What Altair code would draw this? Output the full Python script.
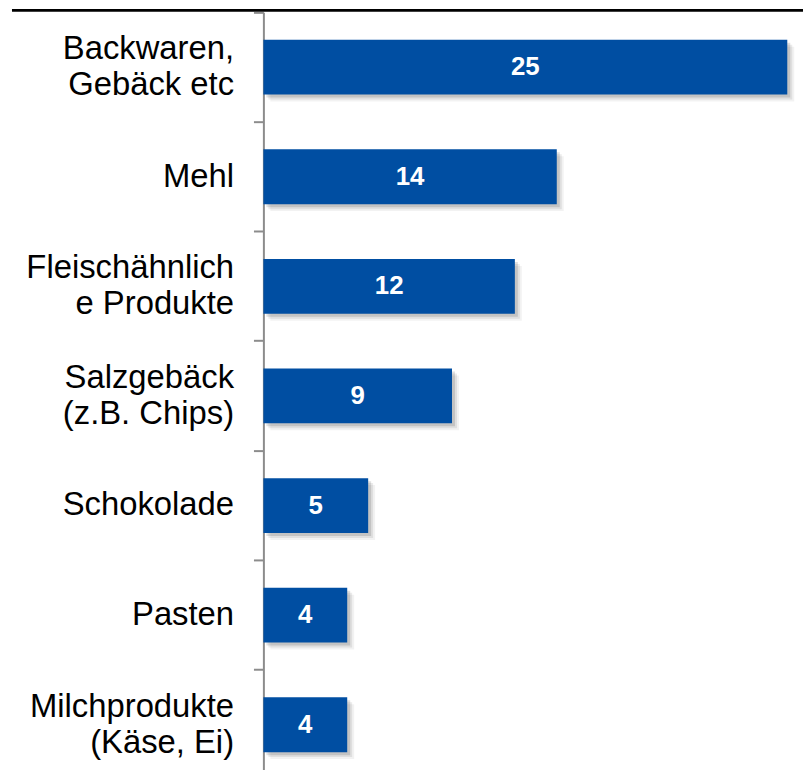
import altair as alt
import pandas as pd

categories = [
    "Backwaren,|Gebäck etc",
    "Mehl",
    "Fleischähnlich|e Produkte",
    "Salzgebäck|(z.B. Chips)",
    "Schokolade",
    "Pasten",
    "Milchprodukte|(Käse, Ei)",
]
values = [25, 14, 12, 9, 5, 4, 4]

df = pd.DataFrame({"cat": categories, "value": values})

BAR = "#004EA2"
XDOM = [0, 25.75]

y_enc = alt.Y(
    "cat:N",
    sort=None,
    title=None,
    scale=alt.Scale(range=[0, 772], paddingInner=0, paddingOuter=0),
    axis=alt.Axis(
        domainColor="#8c8c8c",
        domainWidth=2,
        tickColor="#8c8c8c",
        tickWidth=2,
        tickSize=10,
        bandPosition=0,
        labelFont="Liberation Sans",
        labelFontSize=33,
        labelColor="#000000",
        labelAlign="right",
        labelBaseline="middle",
        labelLineHeight=36,
        labelPadding=20,
        labelLimit=400,
        labelOffset={
            "condition": {"test": "indexof(datum.label, '|') >= 0", "value": -18},
            "value": 0,
        },
        labelExpr="split(datum.label, '|')",
        grid=False,
    ),
)
x_enc = alt.X(
    "value:Q",
    scale=alt.Scale(domain=XDOM, nice=False, zero=True),
    axis=None,
)

base = alt.Chart(df)

shadows = [
    base.mark_bar(height={"band": 0.5}, color="#000000", opacity=op, xOffset=d, yOffset=d)
    .encode(x=x_enc, y=y_enc)
    for d, op in [(7, 0.05), (5, 0.08), (3, 0.12)]
]

bars = base.mark_bar(height={"band": 0.5}, color=BAR).encode(x=x_enc, y=y_enc)

labels = (
    base.transform_calculate(mid="datum.value / 2")
    .mark_text(
        color="white",
        font="Liberation Sans",
        fontSize=26,
        fontWeight="bold",
        align="center",
        baseline="middle",
    )
    .encode(
        x=alt.X("mid:Q", scale=alt.Scale(domain=XDOM, nice=False, zero=True), axis=None),
        y=y_enc,
        text=alt.Text("value:Q"),
    )
)

topline = (
    alt.Chart(pd.DataFrame({"a": [0]}))
    .mark_rule(color="black", strokeWidth=3)
    .encode(x=alt.value(-253), x2=alt.value(560), y=alt.value(-2))
)

chart = (
    alt.layer(*shadows, bars, labels, topline)
    .properties(
        width=543,
        height=760,
        autosize=alt.AutoSizeParams(type="none"),
        padding={"left": 257, "top": 2, "right": 0, "bottom": 0},
    )
    .configure_view(stroke=None)
)

chart.save("out.html", embed_options={"renderer": "svg", "actions": False})
